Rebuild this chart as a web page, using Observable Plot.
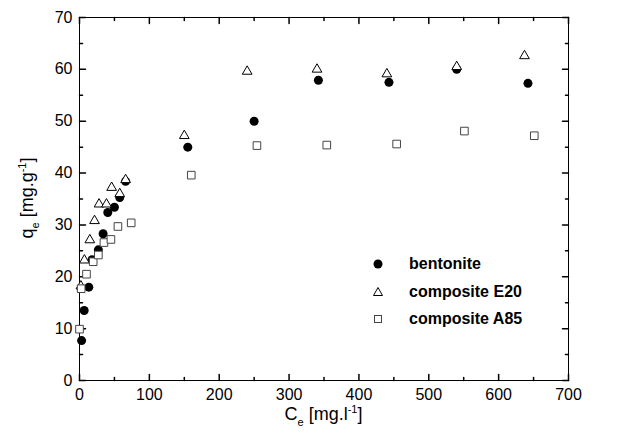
<!DOCTYPE html>
<html><head><meta charset="utf-8">
<script src="https://cdn.jsdelivr.net/npm/d3@7"></script>
<script src="https://cdn.jsdelivr.net/npm/@observablehq/plot@0.6"></script>
<style>
body{margin:0;background:#fff;}
#wrap{position:relative;width:619px;height:447px;font-family:"Liberation Sans",Arial,sans-serif;}
.lg{position:absolute;left:370px;font-weight:bold;font-size:16px;color:#000;display:flex;align-items:center;height:20px;}
.lg svg{width:16px;height:16px;margin-right:23px;}
</style></head><body><div id="wrap"></div>
<script>
// bentonite
const bentoniteCe = [3, 6.7, 13.3, 18, 27, 33.8, 40.5, 50, 57.6, 66, 155, 250, 342, 443, 540, 642];
const bentoniteQe = [7.7, 13.5, 18.0, 23.3, 25.2, 28.3, 32.4, 33.4, 35.3, 38.4, 45.0, 50.0, 57.9, 57.5, 60.0, 57.3];
// composite E20
const e20Ce = [2, 7, 14.8, 21.5, 28, 38.6, 46, 57.6, 66, 150, 240, 340, 440, 540, 637];
const e20Qe = [18.2, 23.2, 27.1, 30.8, 34.0, 34.0, 37.2, 36.0, 38.7, 47.2, 59.6, 60.0, 59.1, 60.5, 62.6];
// composite A85
const a85Ce = [0, 2.4, 10, 19.6, 27, 35, 45, 55, 74, 160, 254, 354, 454, 551, 651];
const a85Qe = [9.9, 17.7, 20.5, 22.9, 24.2, 26.6, 27.2, 29.7, 30.4, 39.6, 45.3, 45.4, 45.6, 48.1, 47.2];

const seriesNames = ["bentonite", "composite E20", "composite A85"];
const xMajor = [0, 100, 200, 300, 400, 500, 600, 700];
const xMinor = [50, 150, 250, 350, 450, 550, 650];
const yMajor = [0, 10, 20, 30, 40, 50, 60, 70];
const yMinor = [5, 15, 25, 35, 45, 55, 65];

const toRows = (ce, qe) => ce.map((c, i) => ({ce: c, qe: qe[i]}));
const bentonite = toRows(bentoniteCe, bentoniteQe);
const e20 = toRows(e20Ce, e20Qe);
const a85 = toRows(a85Ce, a85Qe);

const tickShape = {draw(context, l) { context.moveTo(0, 0); context.lineTo(0, -l); }};
const tickMarks = (vals, len) => [
  Plot.vectorX(vals, {x: d => d, frameAnchor: "bottom", length: len, rotate: 0, anchor: "start", shape: tickShape, stroke: "black"}),
  Plot.vectorX(vals, {x: d => d, frameAnchor: "top", length: len, rotate: 180, anchor: "start", shape: tickShape, stroke: "black"})
];
const tickMarksY = (vals, len) => [
  Plot.vectorY(vals, {y: d => d, frameAnchor: "left", length: len, rotate: 90, anchor: "start", shape: tickShape, stroke: "black"}),
  Plot.vectorY(vals, {y: d => d, frameAnchor: "right", length: len, rotate: -90, anchor: "start", shape: tickShape, stroke: "black"})
];

const chart = Plot.plot({
  width: 619, height: 447,
  marginLeft: 79, marginRight: 51, marginTop: 17, marginBottom: 67,
  style: {fontFamily: "'Liberation Sans', Arial, sans-serif", fontSize: "16px", color: "black", background: "white"},
  x: {domain: [0, 700]},
  y: {domain: [0, 70]},
  marks: [
    Plot.axisX({ticks: xMajor, tickSize: 0, tickPadding: 8, fontSize: 16, label: null}),
    Plot.axisY({ticks: yMajor, tickSize: 0, tickPadding: 7, fontSize: 16, label: null}),
    ...tickMarks(xMajor, 6), ...tickMarks(xMinor, 3),
    ...tickMarksY(yMajor, 6), ...tickMarksY(yMinor, 3),
    Plot.frame({stroke: "black"}),
    Plot.dot(bentonite, {x: "ce", y: "qe", symbol: "circle", r: 4.5, fill: "black", stroke: "none"}),
    Plot.dot(e20, {x: "ce", y: "qe", symbol: "triangle", r: 3.6, fill: "white", stroke: "black", strokeWidth: 1}),
    Plot.dot(a85, {x: "ce", y: "qe", symbol: "square", r: 4.3, fill: "white", stroke: "#444", strokeWidth: 1})
  ]
});

const svg = d3.select(chart);
// x axis title
const xt = svg.append("text").attr("x", 323.5).attr("y", 420).attr("text-anchor", "middle")
  .attr("font-size", 18).attr("fill", "black");
xt.append("tspan").text("C");
xt.append("tspan").attr("font-size", 11).attr("dy", 6).text("e");
xt.append("tspan").attr("dy", -6).text(" [mg.l");
xt.append("tspan").attr("font-size", 11).attr("dy", -7).text("-1");
xt.append("tspan").attr("dy", 7).text("]");
// y axis title
const yt = svg.append("text").attr("transform", "translate(33,198) rotate(-90)").attr("text-anchor", "middle")
  .attr("font-size", 18).attr("fill", "black");
yt.append("tspan").text("q");
yt.append("tspan").attr("font-size", 11).attr("dy", 6).text("e");
yt.append("tspan").attr("dy", -6).text(" [mg.g");
yt.append("tspan").attr("font-size", 11).attr("dy", -7).text("-1");
yt.append("tspan").attr("dy", 7).text("]");

const wrap = document.getElementById("wrap");
wrap.appendChild(chart);

// legend
const legendTops = [254, 282, 309];
const legendSymbols = [
  '<circle cx="8" cy="8" r="4.5" fill="black"/>',
  '<path d="M8,3.5 L12.5,11.5 L3.5,11.5 Z" fill="white" stroke="black"/>',
  '<rect x="4.5" y="4.5" width="7" height="7" fill="white" stroke="#444"/>'
];
seriesNames.forEach((name, i) => {
  const d = document.createElement("div");
  d.className = "lg";
  d.style.top = legendTops[i] + "px";
  d.innerHTML = `<svg viewBox="0 0 16 16">${legendSymbols[i]}</svg><span>${name}</span>`;
  wrap.appendChild(d);
});
</script>
</body></html>
